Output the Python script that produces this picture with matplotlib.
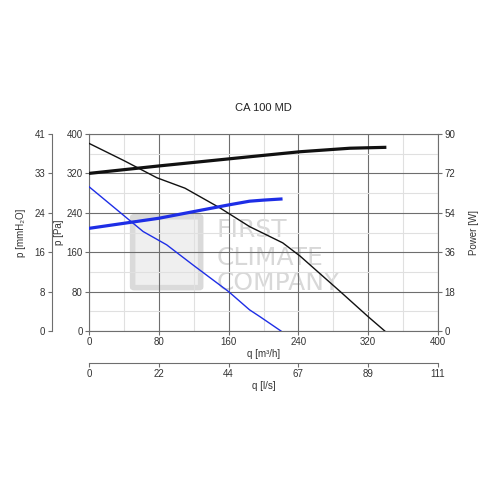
import matplotlib
matplotlib.use("Agg")
import matplotlib.pyplot as plt
from matplotlib.ticker import FixedLocator, MultipleLocator
from matplotlib.patches import FancyBboxPatch

plt.rcParams['font.family'] = ['Liberation Sans', 'DejaVu Sans']

# ---- data ----
title = "CA 100 MD"
q_ticks = [0, 80, 160, 240, 320, 400]
ls_labels = ["0", "22", "44", "67", "89", "111"]
p_ticks = [0, 80, 160, 240, 320, 400]
mm_labels = ["0", "8", "16", "24", "33", "41"]
w_ticks = [0, 18, 36, 54, 72, 90]
watermark_lines = ["FIRST", "CLIMATE", "COMPANY"]

# pressure curves (q m3/h, p Pa)
q_p_black = [0, 40, 78, 110, 150, 184, 222, 242, 288, 320, 339]
p_black = [381, 346, 311, 290, 250, 212, 179, 152, 80, 29, 0]
q_p_blue = [0, 30, 62, 89, 120, 160, 184, 196, 220]
p_blue = [293, 249, 202, 175, 133, 80, 43, 29, 0]

# power curves (q m3/h, W)
q_w_black = [0, 80, 184, 242, 299, 339]
w_black = [72, 75.4, 79.6, 81.9, 83.5, 83.9]
q_w_blue = [0, 80, 160, 184, 200, 220]
w_blue = [46.9, 51.5, 57.6, 59.3, 59.8, 60.3]

BLUE = '#1e2ee6'
TXT = '#333333'

fig = plt.figure(figsize=(5, 5), dpi=100)
ax = fig.add_axes([0.178, 0.338, 0.698, 0.394])
ax.set_xlim(0, 400)
ax.set_ylim(0, 400)

ax.xaxis.set_major_locator(FixedLocator(q_ticks))
ax.xaxis.set_minor_locator(MultipleLocator(40))
ax.yaxis.set_major_locator(FixedLocator(p_ticks))
ax.yaxis.set_minor_locator(MultipleLocator(40))
ax.grid(which='major', color='#6e6e6e', lw=0.8)
ax.grid(which='minor', color='#e0e0e0', lw=0.8)
ax.set_axisbelow(True)
for s in ax.spines.values():
    s.set_color('#6e6e6e')
    s.set_linewidth(0.8)
ax.tick_params(which='major', length=3, width=0.8, color='#6e6e6e',
               labelsize=7, labelcolor=TXT, pad=1.5)
ax.tick_params(which='minor', length=0)
ax.set_xlabel("q [m³/h]", fontsize=7, color=TXT)
ax.xaxis.set_label_coords(0.5, -0.09)
ax.set_ylabel("p [Pa]", fontsize=7, color=TXT)
ax.yaxis.set_label_coords(-0.072, 0.5)

# watermark (logo shape + text), beneath the grid
logo = FancyBboxPatch((52, 90), 74, 140, boxstyle="round,pad=2",
                      fc='#efefef', ec='#dadada', lw=4, zorder=0.2)
ax.add_patch(logo)
for txt, yb in zip(watermark_lines, [191, 134, 83]):
    ax.text(146, yb, txt, fontsize=18, color='#d8d8d8', family='DejaVu Sans',
            ha='left', va='baseline', zorder=0.3)

ax.plot(q_p_black, p_black, color='#111111', lw=1.0, zorder=3)
ax.plot(q_p_blue, p_blue, color=BLUE, lw=1.0, zorder=3)

# power axis
axw = ax.twinx()
axw.set_ylim(0, 90)
axw.yaxis.set_major_locator(FixedLocator(w_ticks))
axw.tick_params(length=3, width=0.8, color='#6e6e6e', labelsize=7,
                labelcolor=TXT, pad=1.5)
for s in axw.spines.values():
    s.set_visible(False)
axw.set_ylabel("Power [W]", fontsize=7, color=TXT)
axw.yaxis.set_label_coords(1.09, 0.5)
axw.plot(q_w_black, w_black, color='#111111', lw=2.3, zorder=3)
axw.plot(q_w_blue, w_blue, color=BLUE, lw=2.3, zorder=3)

# mmH2O axis
axm = ax.twinx()
axm.set_ylim(0, 400)
for k, s in axm.spines.items():
    s.set_visible(k == 'left')
axm.spines['left'].set_position(('outward', 27))
axm.spines['left'].set_color('#6e6e6e')
axm.spines['left'].set_linewidth(0.8)
axm.yaxis.set_ticks_position('left')
axm.yaxis.set_label_position('left')
axm.yaxis.set_major_locator(FixedLocator(p_ticks))
axm.set_yticklabels(mm_labels)
axm.tick_params(length=3, width=0.8, color='#6e6e6e', labelsize=7,
                labelcolor=TXT, pad=1.5)
axm.set_ylabel("p [mmH₂O]", fontsize=7, color=TXT)
axm.yaxis.set_label_coords(-0.18, 0.5)

# l/s axis
axl = ax.twiny()
axl.set_xlim(0, 400)
for k, s in axl.spines.items():
    s.set_visible(k == 'bottom')
axl.spines['bottom'].set_position(('outward', 23))
axl.spines['bottom'].set_color('#6e6e6e')
axl.spines['bottom'].set_linewidth(0.8)
axl.xaxis.set_ticks_position('bottom')
axl.xaxis.set_label_position('bottom')
axl.xaxis.set_major_locator(FixedLocator(q_ticks))
axl.set_xticklabels(ls_labels)
axl.tick_params(length=3, width=0.8, color='#6e6e6e', labelsize=7,
                labelcolor=TXT, pad=1.5)
axl.set_xlabel("q [l/s]", fontsize=7, color=TXT)
axl.xaxis.set_label_coords(0.5, -0.255)

fig.text(0.526, 0.784, title, fontsize=8, color='#222222', ha='center', va='center')

fig.savefig("out.png", dpi=100)
